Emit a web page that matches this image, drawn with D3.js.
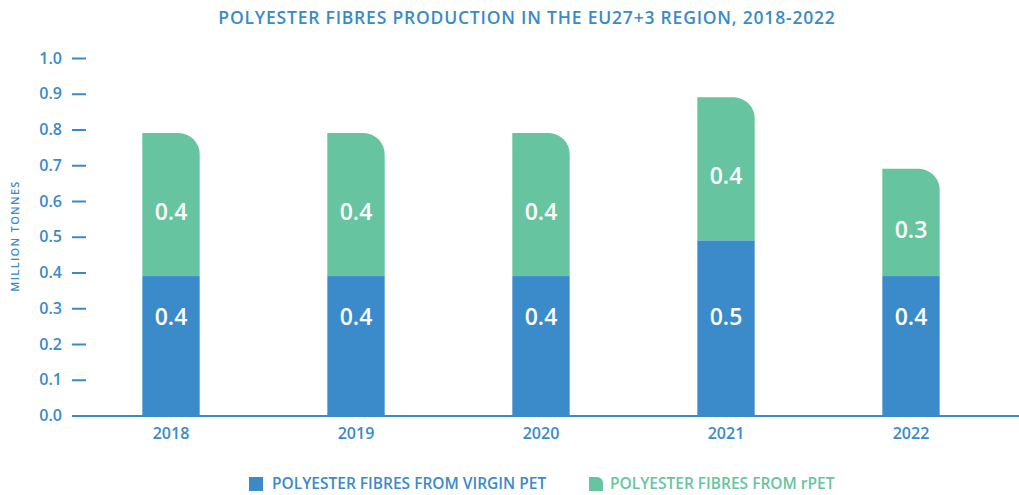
<!DOCTYPE html>
<html>
<head>
<meta charset="utf-8">
<script src="https://cdn.jsdelivr.net/npm/d3@7"></script>
<style>
  html, body { margin: 0; padding: 0; background: #fff; }
  svg { display: block; font-family: "Open Sans", "Noto Sans", sans-serif; }
</style>
</head>
<body>
<svg id="chart" width="1019" height="495"></svg>
<script>
const years = ["2018", "2019", "2020", "2021", "2022"];
const virginPET = [0.39, 0.39, 0.39, 0.49, 0.39];
const rPET = [0.40, 0.40, 0.40, 0.40, 0.30];
const virginLabels = ["0.4", "0.4", "0.4", "0.5", "0.4"];
const rPETLabels = ["0.4", "0.4", "0.4", "0.4", "0.3"];
const yTicks = [0, 0.1, 0.2, 0.3, 0.4, 0.5, 0.6, 0.7, 0.8, 0.9, 1.0];
const seriesNames = ["POLYESTER FIBRES FROM VIRGIN PET", "POLYESTER FIBRES FROM rPET"];

const BLUE = "#3b8bcb";
const GREEN = "#66c5a0";
const TEXT = "#3a8ac9";

const svg = d3.select("#chart");

const x = d3.scaleBand().domain(years).range([78.5, 1003.5]).paddingInner(0.69).paddingOuter(0.345);
const y = d3.scaleLinear().domain([0, 1]).range([415.5, 58]);

// title
svg.append("text")
  .attr("x", 527).attr("y", 24)
  .attr("text-anchor", "middle")
  .attr("font-size", 17.5).attr("font-weight", 600)
  .attr("letter-spacing", 0.8)
  .attr("fill", TEXT)
  .text("POLYESTER FIBRES PRODUCTION IN THE EU27+3 REGION, 2018-2022");

// y axis label
svg.append("text")
  .attr("transform", "translate(19,236) rotate(-90)")
  .attr("text-anchor", "middle")
  .attr("font-size", 11).attr("font-weight", 600)
  .attr("letter-spacing", 1.3)
  .attr("fill", TEXT)
  .text("MILLION TONNES");

// y ticks
const yAxis = svg.append("g").attr("transform", "translate(86,0)")
  .call(d3.axisLeft(y).tickValues(yTicks).tickFormat(d3.format(".1f")).tickSize(14).tickPadding(10));
yAxis.select(".domain").remove();
yAxis.selectAll(".tick line").attr("stroke", TEXT).attr("stroke-width", 2);
yAxis.selectAll(".tick text")
  .attr("fill", TEXT).attr("font-size", 16).attr("font-weight", 600)
  .attr("font-family", "'Open Sans', sans-serif");
yAxis.selectAll(".tick").filter(d => d === 0).select("line").remove();

// bars
const bw = x.bandwidth();
const r = 21;
function roundedTopRight(x0, yTop, w, h, rad) {
  const rr = Math.min(rad, h, w);
  return `M${x0},${yTop + h}V${yTop}H${x0 + w - rr}A${rr},${rr} 0 0 1 ${x0 + w},${yTop + rr}V${yTop + h}Z`;
}

const g = svg.append("g");
years.forEach((yr, i) => {
  const x0 = x(yr);
  const vTop = y(virginPET[i]);
  g.append("rect")
    .attr("x", x0).attr("y", vTop)
    .attr("width", bw).attr("height", y(0) - vTop)
    .attr("fill", BLUE);
  const gTop = y(virginPET[i] + rPET[i]);
  g.append("path")
    .attr("d", roundedTopRight(x0, gTop, bw, vTop - gTop, r))
    .attr("fill", GREEN);
  g.append("text")
    .attr("x", x0 + bw / 2).attr("y", y(0.275))
    .attr("dy", "0.35em").attr("text-anchor", "middle")
    .attr("font-size", 23).attr("font-weight", 600)
    .attr("fill", "#fff")
    .text(virginLabels[i]);
  g.append("text")
    .attr("x", x0 + bw / 2).attr("y", (gTop + vTop) / 2 + 7)
    .attr("dy", "0.35em").attr("text-anchor", "middle")
    .attr("font-size", 23).attr("font-weight", 600)
    .attr("fill", "#fff")
    .text(rPETLabels[i]);
});

// baseline
svg.append("line")
  .attr("x1", 72).attr("x2", 1019)
  .attr("y1", y(0) + 0.5).attr("y2", y(0) + 0.5)
  .attr("stroke", TEXT).attr("stroke-width", 2);

// x labels
const xAxis = svg.append("g").attr("transform", `translate(0,${y(0)})`)
  .call(d3.axisBottom(x).tickSize(0).tickPadding(12));
xAxis.select(".domain").remove();
xAxis.selectAll(".tick text")
  .attr("fill", TEXT).attr("font-size", 16).attr("font-weight", 600)
  .attr("font-family", "'Open Sans', sans-serif");

// legend
const leg = svg.append("g");
leg.append("rect").attr("x", 249).attr("y", 477).attr("width", 14).attr("height", 14).attr("fill", BLUE);
leg.append("text").attr("x", 272).attr("y", 489)
  .attr("font-size", 15.5).attr("font-weight", 600).attr("fill", TEXT)
  .text(seriesNames[0]);
leg.append("path").attr("d", roundedTopRight(589, 477, 14, 14, 6)).attr("fill", GREEN);
leg.append("text").attr("x", 610).attr("y", 489)
  .attr("font-size", 15.5).attr("font-weight", 600).attr("fill", GREEN)
  .text(seriesNames[1]);
</script>
</body>
</html>
